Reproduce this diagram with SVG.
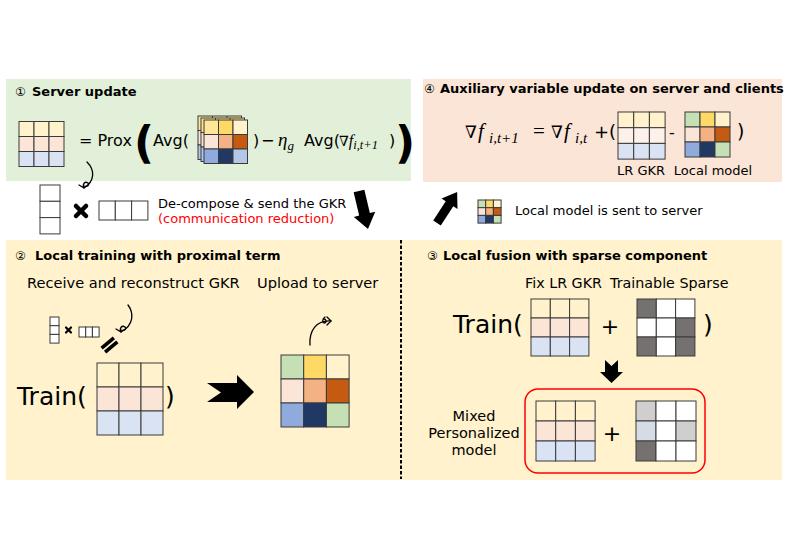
<svg xmlns="http://www.w3.org/2000/svg" width="789" height="558" viewBox="0 0 789 558">
<style>
.c{stroke:#3a3a3a;stroke-width:1}
.y{fill:#FFF2CC}.p{fill:#FBE5D6}.b{fill:#DAE3F3}.pl{fill:#FDF1EA}
.g{fill:#C5E0B4}.gd{fill:#FFD966}.ly{fill:#FFE699}.o{fill:#F4B183}.do{fill:#C55A11}
.bl{fill:#8FAADC}.nv{fill:#203864}.lbl{fill:#B4C7E7}.w{fill:#fff}
.dg{fill:#767171}.lg{fill:#D0CECE}.lb{fill:#D6DCE5}
.t{font-family:"DejaVu Sans","Verdana",sans-serif;fill:#000}
.h{font-family:"DejaVu Sans",sans-serif;font-weight:bold;font-size:13px;fill:#000}
.m{font-family:"Liberation Serif","DejaVu Serif",serif;fill:#000}
.cur{fill:none;stroke:#000;stroke-width:1.3;stroke-linecap:round;stroke-linejoin:round}
</style>

<!-- panels -->
<g id="panel-server"><rect x="6" y="79" width="405" height="102" fill="#E2F0D9"/></g>
<g id="panel-aux"><rect x="423" y="79" width="359" height="103" fill="#FBE5D6"/></g>
<g id="panel-local"><rect x="6" y="240" width="776" height="240" fill="#FFF2CC"/></g>

<!-- ① Server update -->
<g id="server-update">
<text x="15" y="96" class="t" font-size="12">①</text>
<text x="32" y="96" class="h">Server update</text>
<g id="server-lr">
<rect class="c y" x="19" y="121.5" width="15" height="15"/><rect class="c y" x="34" y="121.5" width="15" height="15"/><rect class="c y" x="49" y="121.5" width="15" height="15"/>
<rect class="c p" x="19" y="136.5" width="15" height="15"/><rect class="c p" x="34" y="136.5" width="15" height="15"/><rect class="c p" x="49" y="136.5" width="15" height="15"/>
<rect class="c b" x="19" y="151.5" width="15" height="15"/><rect class="c b" x="34" y="151.5" width="15" height="15"/><rect class="c b" x="49" y="151.5" width="15" height="15"/>
</g>
<text x="79" y="146" class="t" font-size="16">= Prox</text>
<text x="134" y="158" class="t" font-size="44" font-weight="bold">(</text>
<text x="153" y="146" class="t" font-size="16">Avg(</text>
<g id="stacked-models">
<g transform="translate(-6,-4)">
<rect class="c ly" x="204" y="120" width="43.5" height="14.5"/><rect class="c p" x="204" y="134.5" width="43.5" height="14.5"/><rect class="c lbl" x="204" y="149" width="43.5" height="14.5"/>
<line class="c" x1="218.5" y1="120" x2="218.5" y2="163.5"/><line class="c" x1="233" y1="120" x2="233" y2="163.5"/>
</g>
<g transform="translate(-3,-2)">
<rect class="c ly" x="204" y="120" width="43.5" height="14.5"/><rect class="c p" x="204" y="134.5" width="43.5" height="14.5"/><rect class="c lbl" x="204" y="149" width="43.5" height="14.5"/>
<line class="c" x1="218.5" y1="120" x2="218.5" y2="163.5"/><line class="c" x1="233" y1="120" x2="233" y2="163.5"/>
</g>
<rect class="c ly" x="204" y="120" width="14.5" height="14.5"/><rect class="c gd" x="218.5" y="120" width="14.5" height="14.5"/><rect class="c y" x="233" y="120" width="14.5" height="14.5"/>
<rect class="c p" x="204" y="134.5" width="14.5" height="14.5"/><rect class="c o" x="218.5" y="134.5" width="14.5" height="14.5"/><rect class="c do" x="233" y="134.5" width="14.5" height="14.5"/>
<rect class="c bl" x="204" y="149" width="14.5" height="14.5"/><rect class="c nv" x="218.5" y="149" width="14.5" height="14.5"/><rect class="c lbl" x="233" y="149" width="14.5" height="14.5"/>
</g>
<text x="253" y="146" class="t" font-size="16">)</text>
<text x="261" y="146" class="t" font-size="16">−</text>
<text x="278" y="146" class="m" font-size="19" font-style="italic">η<tspan font-size="13" dy="4">g</tspan></text>
<text x="304" y="146" class="t" font-size="16">Avg(</text>
<text x="339" y="146" class="m" font-size="14">∇<tspan font-style="italic" font-size="16">f</tspan><tspan font-style="italic" font-size="12.5" dy="3">i,t+1</tspan></text>
<text x="389" y="146" class="t" font-size="16">)</text>
<text x="395" y="158" class="t" font-size="44" font-weight="bold">)</text>
</g>

<!-- ④ Auxiliary -->
<g id="aux-update">
<text x="424" y="93" class="t" font-size="12">④</text>
<text x="440" y="93" class="h">Auxiliary variable update on server and clients</text>
<text x="465" y="138" class="m" font-size="17">∇</text>
<text x="478" y="138" class="m" font-size="21" font-style="italic">f</text>
<text x="489" y="143" class="m" font-size="15" font-style="italic">i,t+1</text>
<text x="533" y="138" class="m" font-size="21">=</text>
<text x="551" y="138" class="m" font-size="17">∇</text>
<text x="564" y="138" class="m" font-size="21" font-style="italic">f</text>
<text x="575" y="143" class="m" font-size="15" font-style="italic">i,t</text>
<text x="594" y="138" class="t" font-size="18">+(</text>
<g id="aux-lr">
<rect class="c y" x="618" y="112" width="15.7" height="15.7"/><rect class="c y" x="633.7" y="112" width="15.7" height="15.7"/><rect class="c y" x="649.4" y="112" width="15.7" height="15.7"/>
<rect class="c pl" x="618" y="127.7" width="15.7" height="15.7"/><rect class="c pl" x="633.7" y="127.7" width="15.7" height="15.7"/><rect class="c pl" x="649.4" y="127.7" width="15.7" height="15.7"/>
<rect class="c b" x="618" y="143.4" width="15.7" height="15.7"/><rect class="c b" x="633.7" y="143.4" width="15.7" height="15.7"/><rect class="c b" x="649.4" y="143.4" width="15.7" height="15.7"/>
</g>
<text x="669" y="138" class="t" font-size="16">-</text>
<g id="aux-local">
<rect class="c g" x="685" y="112" width="15" height="15"/><rect class="c gd" x="700" y="112" width="15" height="15"/><rect class="c y" x="715" y="112" width="15" height="15"/>
<rect class="c p" x="685" y="127" width="15" height="15"/><rect class="c o" x="700" y="127" width="15" height="15"/><rect class="c do" x="715" y="127" width="15" height="15"/>
<rect class="c bl" x="685" y="142" width="15" height="15"/><rect class="c nv" x="700" y="142" width="15" height="15"/><rect class="c g" x="715" y="142" width="15" height="15"/>
</g>
<text x="737" y="138" class="t" font-size="19">)</text>
<text x="641" y="175" class="t" font-size="13" text-anchor="middle">LR GKR</text>
<text x="713" y="175" class="t" font-size="13" text-anchor="middle">Local model</text>
</g>

<!-- middle strip -->
<g id="decompose">
<rect class="c w" x="40" y="185" width="20" height="16.3"/><rect class="c w" x="40" y="201.3" width="20" height="16.3"/><rect class="c w" x="40" y="217.6" width="20" height="16.3"/>
<g stroke="#000" stroke-width="4.5" stroke-linecap="round"><line x1="76" y1="206" x2="86" y2="216"/><line x1="86" y1="206" x2="76" y2="216"/></g>
<rect class="c w" x="99" y="201" width="16.3" height="19"/><rect class="c w" x="115.3" y="201" width="16.3" height="19"/><rect class="c w" x="131.6" y="201" width="16.3" height="19"/>
<text x="158" y="208" class="t" font-size="13">De-compose &amp; send the GKR</text>
<text x="158" y="223" class="t" font-size="13" style="fill:#FF0000">(communication reduction)</text>
</g>
<g id="sent-label">
<g id="mini-local">
<rect class="c g" x="478" y="200" width="7.7" height="7.7"/><rect class="c gd" x="485.7" y="200" width="7.7" height="7.7"/><rect class="c y" x="493.4" y="200" width="7.7" height="7.7"/>
<rect class="c p" x="478" y="207.7" width="7.7" height="7.7"/><rect class="c o" x="485.7" y="207.7" width="7.7" height="7.7"/><rect class="c do" x="493.4" y="207.7" width="7.7" height="7.7"/>
<rect class="c bl" x="478" y="215.4" width="7.7" height="7.7"/><rect class="c nv" x="485.7" y="215.4" width="7.7" height="7.7"/><rect class="c g" x="493.4" y="215.4" width="7.7" height="7.7"/>
</g>
<text x="515" y="215" class="t" font-size="13">Local model is sent to server</text>
</g>

<!-- ② Local training -->
<g id="local-training">
<text x="15" y="260" class="t" font-size="12">②</text>
<text x="35" y="260" class="h">Local training with proximal term</text>
<text x="27" y="288" class="t" font-size="14.6">Receive and reconstruct GKR</text>
<text x="257" y="288" class="t" font-size="14.6">Upload to server</text>
<rect class="c w" x="50" y="317" width="9" height="8.7"/><rect class="c w" x="50" y="325.7" width="9" height="8.7"/><rect class="c w" x="50" y="334.4" width="9" height="8.7"/>
<g stroke="#000" stroke-width="2.2" stroke-linecap="round"><line x1="66" y1="327.5" x2="71" y2="332.5"/><line x1="71" y1="327.5" x2="66" y2="332.5"/></g>
<rect class="c w" x="79" y="327" width="6.7" height="10"/><rect class="c w" x="85.7" y="327" width="6.7" height="10"/><rect class="c w" x="92.4" y="327" width="6.7" height="10"/>
<g transform="translate(109.5,345) rotate(-40)" fill="#000"><rect x="-8" y="-4.5" width="16" height="3.6"/><rect x="-8" y="0.9" width="16" height="3.6"/></g>
<text x="17" y="405" class="t" font-size="25">Train(</text>
<g id="train-lr">
<rect class="c y" x="97" y="363" width="22" height="24"/><rect class="c y" x="119" y="363" width="22" height="24"/><rect class="c y" x="141" y="363" width="22" height="24"/>
<rect class="c p" x="97" y="387" width="22" height="24"/><rect class="c p" x="119" y="387" width="22" height="24"/><rect class="c p" x="141" y="387" width="22" height="24"/>
<rect class="c b" x="97" y="411" width="22" height="24"/><rect class="c b" x="119" y="411" width="22" height="24"/><rect class="c b" x="141" y="411" width="22" height="24"/>
</g>
<text x="165" y="405" class="t" font-size="25">)</text>
<g id="trained-local">
<rect class="c g" x="281" y="355" width="22.7" height="24"/><rect class="c gd" x="303.7" y="355" width="22.7" height="24"/><rect class="c y" x="326.4" y="355" width="22.7" height="24"/>
<rect class="c p" x="281" y="379" width="22.7" height="24"/><rect class="c o" x="303.7" y="379" width="22.7" height="24"/><rect class="c do" x="326.4" y="379" width="22.7" height="24"/>
<rect class="c bl" x="281" y="403" width="22.7" height="24"/><rect class="c nv" x="303.7" y="403" width="22.7" height="24"/><rect class="c g" x="326.4" y="403" width="22.7" height="24"/>
</g>
</g>

<!-- ③ Local fusion -->
<g id="local-fusion">
<text x="427" y="260" class="t" font-size="12">③</text>
<text x="443" y="260" class="h">Local fusion with sparse component</text>
<text x="525" y="288" class="t" font-size="14.3">Fix LR GKR</text>
<text x="610" y="288" class="t" font-size="14.3">Trainable Sparse</text>
<text x="453" y="333" class="t" font-size="25">Train(</text>
<g id="fix-lr">
<rect class="c y" x="531" y="299" width="19.3" height="19"/><rect class="c y" x="550.3" y="299" width="19.3" height="19"/><rect class="c y" x="569.6" y="299" width="19.3" height="19"/>
<rect class="c p" x="531" y="318" width="19.3" height="19"/><rect class="c p" x="550.3" y="318" width="19.3" height="19"/><rect class="c p" x="569.6" y="318" width="19.3" height="19"/>
<rect class="c b" x="531" y="337" width="19.3" height="19"/><rect class="c b" x="550.3" y="337" width="19.3" height="19"/><rect class="c b" x="569.6" y="337" width="19.3" height="19"/>
</g>
<text x="610" y="334" class="t" font-size="22" text-anchor="middle">+</text>
<g id="sparse">
<rect class="c dg" x="637" y="299" width="19.3" height="19"/><rect class="c w" x="656.3" y="299" width="19.3" height="19"/><rect class="c w" x="675.6" y="299" width="19.3" height="19"/>
<rect class="c w" x="637" y="318" width="19.3" height="19"/><rect class="c w" x="656.3" y="318" width="19.3" height="19"/><rect class="c dg" x="675.6" y="318" width="19.3" height="19"/>
<rect class="c dg" x="637" y="337" width="19.3" height="19"/><rect class="c w" x="656.3" y="337" width="19.3" height="19"/><rect class="c dg" x="675.6" y="337" width="19.3" height="19"/>
</g>
<text x="703" y="333" class="t" font-size="25">)</text>
<rect x="525" y="389" width="180" height="84" rx="13" fill="none" stroke="#FF0000" stroke-width="1.5"/>
<text x="474" y="421" class="t" font-size="14.5" text-anchor="middle">Mixed</text>
<text x="474" y="438" class="t" font-size="14.5" text-anchor="middle">Personalized</text>
<text x="474" y="455" class="t" font-size="14.5" text-anchor="middle">model</text>
<g id="mixed-lr">
<rect class="c y" x="536" y="401" width="19.7" height="20"/><rect class="c y" x="555.7" y="401" width="19.7" height="20"/><rect class="c y" x="575.4" y="401" width="19.7" height="20"/>
<rect class="c p" x="536" y="421" width="19.7" height="20"/><rect class="c p" x="555.7" y="421" width="19.7" height="20"/><rect class="c p" x="575.4" y="421" width="19.7" height="20"/>
<rect class="c b" x="536" y="441" width="19.7" height="20"/><rect class="c b" x="555.7" y="441" width="19.7" height="20"/><rect class="c b" x="575.4" y="441" width="19.7" height="20"/>
</g>
<text x="612" y="441" class="t" font-size="22" text-anchor="middle">+</text>
<g id="mixed-sparse">
<rect class="c lg" x="636" y="401" width="20" height="20"/><rect class="c w" x="656" y="401" width="20" height="20"/><rect class="c w" x="676" y="401" width="20" height="20"/>
<rect class="c lb" x="636" y="421" width="20" height="20"/><rect class="c w" x="656" y="421" width="20" height="20"/><rect class="c lg" x="676" y="421" width="20" height="20"/>
<rect class="c dg" x="636" y="441" width="20" height="20"/><rect class="c w" x="656" y="441" width="20" height="20"/><rect class="c w" x="676" y="441" width="20" height="20"/>
</g>
</g>

<!-- connectors -->
<g id="connectors">
<line x1="401" y1="240" x2="401" y2="479" stroke="#000" stroke-width="2" stroke-dasharray="3.5,2"/>
<polygon transform="translate(359,191) rotate(-13.3)" points="-5.5,0 5.5,0 5.5,24 11,24 0,39 -11,24 -5.5,24" fill="#000"/>
<polygon transform="translate(437,223) rotate(33)" points="-4.5,0 4.5,0 4.5,-23 9.5,-23 0,-37 -9.5,-23 -4.5,-23" fill="#000"/>
<polygon points="207,383 237,383 237,375 254,392 237,409 237,402 207,402 221,392.5" fill="#000"/>
<polygon points="605,360 611.5,366 618,360 618,372 623,372 611.5,383 600,372 605,372" fill="#000"/>
<path class="cur" d="M87,162 C95,170 95,181 84,188"/>
<path class="cur" d="M84,188 l-5,-3 M84,188 c-2,-4 1,-7 4,-5 c2,2 -1,4 -4,3"/>
<path class="cur" d="M128,305 C134,313 134,325 121,332"/>
<path class="cur" d="M121,332 l-5,-3 M121,332 c-2,-4 1,-7 4,-5 c2,2 -1,4 -4,3"/>
<path class="cur" d="M310,345 C309,331 316,320 331,321"/>
<path class="cur" d="M331,321 l-4,-4 M331,321 l-4,4 M325,317 c-3,2 -3,6 0,6 c2,-1 1,-4 -1,-4"/>
</g>
</svg>
